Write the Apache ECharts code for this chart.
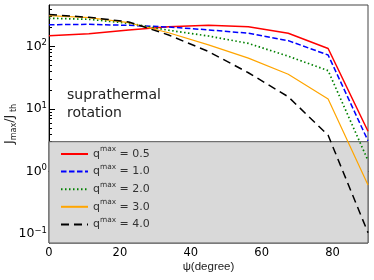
<!DOCTYPE html>
<html>
<head>
<meta charset="utf-8">
<script src="https://cdn.jsdelivr.net/npm/echarts@6/dist/echarts.min.js"></script>
<style>html,body{margin:0;padding:0;background:#fff}#c{width:374px;height:280px}</style>
</head>
<body>
<div id="c"></div>
<script>
// x values (degrees)
const psi = [0, 11.25, 22.5, 33.75, 45, 56.25, 67.5, 78.75, 90];
// series values J_max / J_th for each q^max
const q05 = [149, 160, 184, 206, 218, 207, 163, 93, 4.4];
const q10 = [223, 226, 218, 205, 184, 163, 124, 73, 3.1];
const q20 = [283, 272, 235, 182, 147, 112, 70, 41, 1.5];
const q30 = [312, 289, 240, 166, 106, 65, 36, 14.5, 0.61];
const q40 = [325, 293, 247, 153, 83, 38, 15.7, 3.8, 0.105];
const qNames = ['0.5', '1.0', '2.0', '3.0', '4.0'];
// axis ranges and ticks
const xTicks = [0, 20, 40, 60, 80];
const yMin = 0.0718, yMax = 461;
const yMajor = [0.1, 1, 10, 100];
const yMinor = [];
[0.01, 0.1, 1, 10, 100].forEach(d => { for (let k = 2; k <= 9; k++) { const v = d * k; if (v > yMin && v < yMax) yMinor.push(v); } });
const shadeTop = 3;

const colors = ['#ff0000', '#0000ff', '#008000', '#ffa500', '#000000'];
const styles = [
  { width: 1.5, type: 'solid' },
  { width: 1.5, type: [5.5, 2.5] },
  { width: 1.7, type: [1.5, 2.5] },
  { width: 1.2, type: 'solid' },
  { width: 1.5, type: [8, 5] }
];
const allData = [q05, q10, q20, q30, q40];

const series = allData.map((arr, i) => ({
  type: 'line',
  name: qNames[i],
  xAxisIndex: 0,
  yAxisIndex: 0,
  data: psi.map((x, j) => [x, arr[j]]),
  symbol: 'none',
  showSymbol: false,
  z: 3 + i,
  lineStyle: Object.assign({ color: colors[i] }, styles[i]),
  itemStyle: { color: colors[i] },
  emphasis: { disabled: true },
  markArea: i === 0 ? {
    silent: true,
    z: 1,
    itemStyle: { color: '#d9d9d9', borderColor: '#555', borderWidth: 1 },
    data: [[{ yAxis: shadeTop }, { yAxis: yMin }]]
  } : undefined
}));

const lg = Math.log10;
const chart = echarts.init(document.getElementById('c'), null, { renderer: 'canvas' });
chart.setOption({
  animation: false,
  grid: { left: 49, right: 6, top: 5, bottom: 37, show: true, borderColor: '#444', borderWidth: 1, backgroundColor: 'transparent', containLabel: false, outerBoundsMode: 'none' },
  xAxis: {
    type: 'value', min: 0, max: 90,
    axisLine: { lineStyle: { color: '#000', width: 1 } },
    axisTick: { inside: true, length: 6, customValues: xTicks, lineStyle: { color: '#000' } },
    axisLabel: { customValues: xTicks, color: '#000', fontSize: 11.5, fontFamily: 'DejaVu Sans', margin: 4 },
    splitLine: { show: false },
    name: 'ψ(degree)', nameLocation: 'middle', nameGap: 18, nameMoveOverlap: false,
    nameTextStyle: { color: '#222', fontSize: 11.5, fontFamily: 'Liberation Sans', verticalAlign: 'top' }
  },
  yAxis: [
    { type: 'log', min: yMin, max: yMax, show: false },
    {
      type: 'value', min: lg(yMin), max: lg(yMax), position: 'left',
      axisLine: { show: true, lineStyle: { color: '#000', width: 1 } },
      axisTick: { inside: true, length: 6, customValues: yMajor.map(lg), lineStyle: { color: '#000' } },
      axisLabel: {
        customValues: yMajor.map(lg), margin: 2, color: '#000',
        formatter: v => { const e = Math.round(v); return '{b|10}{e|' + (e < 0 ? '\u2212' + (-e) : e) + '}'; },
        rich: {
          b: { fontSize: 12.5, fontFamily: 'DejaVu Sans', lineHeight: 16, color: '#000' },
          e: { fontSize: 8.5, fontFamily: 'DejaVu Sans', lineHeight: 8, verticalAlign: 'top', color: '#000' }
        }
      },
      splitLine: { show: false },
      name: '{J|J}{s|max}{J|/J}{s| th}', nameLocation: 'middle', nameRotate: 90, nameGap: 31, nameMoveOverlap: false,
      nameTextStyle: {
        rich: {
          J: { fontSize: 13, fontFamily: 'DejaVu Sans', lineHeight: 16, color: '#222' },
          s: { fontSize: 8, fontFamily: 'DejaVu Sans', lineHeight: 8, verticalAlign: 'bottom', color: '#222' }
        }
      }
    },
    {
      type: 'value', min: lg(yMin), max: lg(yMax), position: 'left',
      axisLine: { show: false },
      axisTick: { inside: true, length: 3, customValues: yMinor.map(lg), lineStyle: { color: '#000' } },
      axisLabel: { show: false },
      splitLine: { show: false }
    }
  ],
  legend: {
    orient: 'vertical', left: 60, top: 146, padding: 0,
    itemWidth: 27, itemHeight: 14, itemGap: 4,
    data: qNames,
    itemStyle: { opacity: 0 },
    formatter: n => '{t|q}{s|max}{t| = ' + n + '}',
    textStyle: {
      color: '#333',
      rich: {
        t: { fontSize: 11, fontFamily: 'DejaVu Sans', lineHeight: 16, color: '#333' },
        s: { fontSize: 7.4, fontFamily: 'DejaVu Sans', lineHeight: 6, verticalAlign: 'top', color: '#333' }
      }
    }
  },
  graphic: [{
    type: 'text', left: 67, top: 86, silent: true,
    style: { text: 'suprathermal\nrotation', fontSize: 14, fontFamily: 'DejaVu Sans', fill: '#222', lineHeight: 18 }
  }],
  series: series
});
</script>
</body>
</html>
